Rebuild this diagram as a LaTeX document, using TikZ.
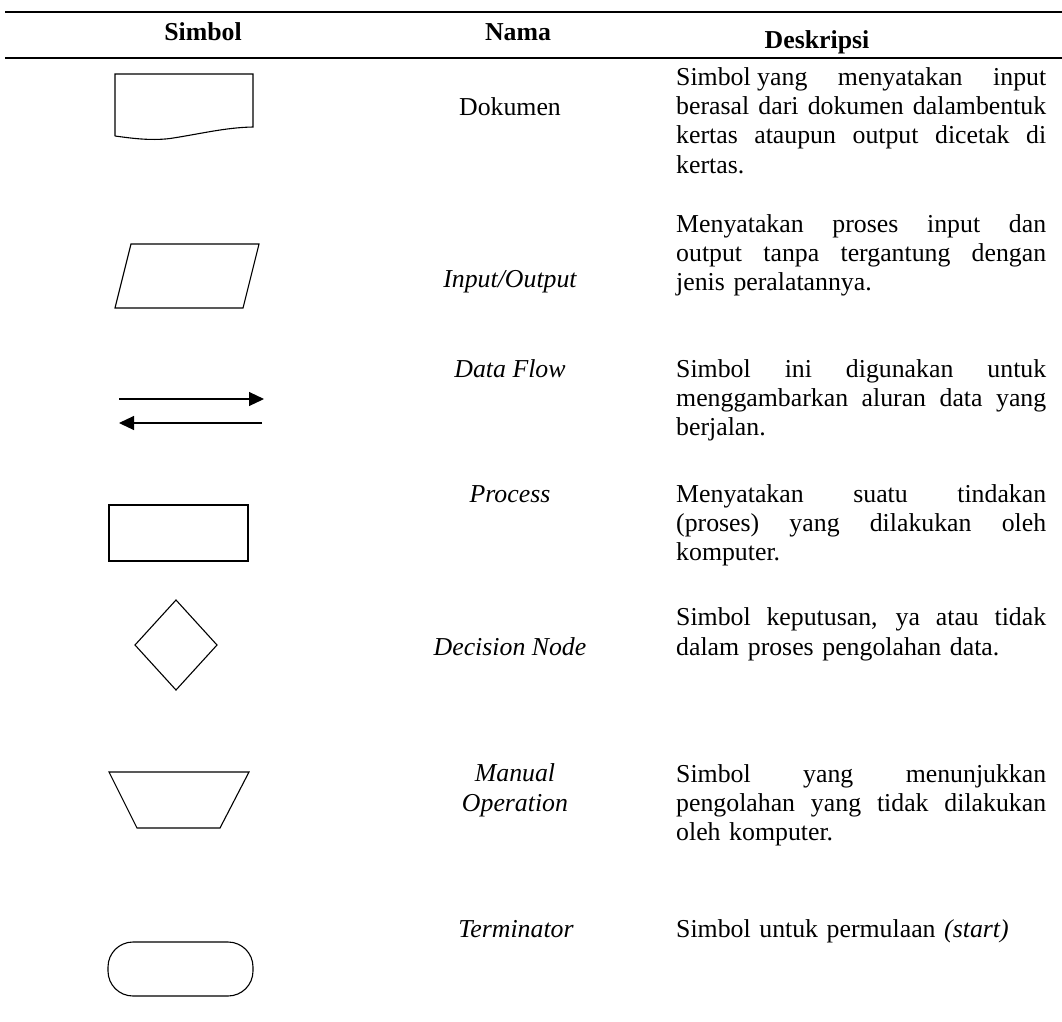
\documentclass[tikz,border=0pt]{standalone}
\usepackage{fontspec}
\setmainfont{Liberation Serif}
\usetikzlibrary{arrows.meta}

\newlength{\deskw}
\setlength{\deskw}{370pt}
\newcommand{\jline}[1]{\makebox[\deskw][s]{\spaceskip=0pt\xspaceskip=0pt #1}}

\begin{document}
\begin{tikzpicture}[x=1pt, y=-1pt,
	sym/.style={draw=black, line width=1.1pt},
	rule/.style={draw=black, line width=2.4pt},
	head/.style={anchor=base, inner sep=0pt, font=\fontsize{25.8}{29.4}\selectfont\bfseries},
	nama/.style={anchor=base, inner sep=0pt, align=center, font=\fontsize{25.8}{29.4}\selectfont\itshape},
	desk/.style={anchor=base west, inner sep=0pt, text width=\deskw, align=left, font=\fontsize{25.8}{29.4}\selectfont},
	tip/.style={-{Triangle[length=15pt, width=14pt]}}]
\def \namax {510}
\def \deskx {676}
\def \ruleleft {5}
\def \ruleright {1062}

\useasboundingbox (0,0) rectangle (1062,1021);

%header
\draw[rule] (\ruleleft,12) -- (\ruleright,12);
\node[head] (hsimbol) at (203,40) {Simbol};
\node[head] (hnama) at (518,40) {Nama};
\node[head] (hdesk) at (817,48) {Deskripsi};
\draw[rule] (\ruleleft,58) -- (\ruleright,58);

%Dokumen
\draw[sym] (115,136) -- (115,74) -- (253,74) -- (253,127)
	.. controls (225,127.5) and (200,134) .. (170,138.5)
	.. controls (150,141) and (130,138) .. (115,136);
\node[nama, font=\fontsize{25.8}{29.4}\selectfont\upshape] (ndok) at (\namax,115) {Dokumen};
\node[desk] (ddok) at (\deskx,85) {\jline{Simbol\hspace{6.5pt}yang menyatakan input}\\
	\jline{berasal dari dokumen dalambentuk}\\
	\jline{kertas ataupun output dicetak di}\\
	kertas.};

%Input/Output
\draw[sym] (131,244) -- (259,244) -- (243,308) -- (115,308) -- cycle;
\node[nama] (nio) at (\namax,287) {Input/Output};
\node[desk] (dio) at (\deskx,232) {\jline{Menyatakan proses input dan}\\
	\jline{output tanpa tergantung dengan}\\
	jenis peralatannya.};

%Data Flow
\draw[sym, tip] (119,399) -- (264,399);
\draw[sym, tip] (262,423) -- (119,423);
\node[nama] (nflow) at (\namax,377) {Data Flow};
\node[desk] (dflow) at (\deskx,377) {\jline{Simbol ini digunakan untuk}\\
	\jline{menggambarkan aluran data yang}\\
	berjalan.};

%Process
\draw[sym] (109,505) rectangle (248,561);
\node[nama] (nproc) at (\namax,502) {Process};
\node[desk] (dproc) at (\deskx,502) {\jline{Menyatakan suatu tindakan}\\
	\jline{(proses) yang dilakukan oleh}\\
	komputer.};

%Decision Node
\draw[sym] (176,600) -- (217,645) -- (176,690) -- (135,645) -- cycle;
\node[nama] (ndec) at (\namax,655) {Decision Node};
\node[desk] (ddec) at (\deskx,625.6) {\jline{Simbol keputusan, ya atau tidak}\\
	dalam proses pengolahan data.};

%Manual Operation
\draw[sym] (109,772) -- (249,772) -- (220,828) -- (137,828) -- cycle;
\node[nama] (nman) at (515,811) {Manual\\ Operation};
\node[desk] (dman) at (\deskx,782) {\jline{Simbol yang menunjukkan}\\
	\jline{pengolahan yang tidak dilakukan}\\
	oleh komputer.};

%Terminator
\draw[sym, rounded corners=25pt] (108,942) rectangle (253,996);
\node[nama] (nterm) at (516,937) {Terminator};
\node[desk] (dterm) at (\deskx,937) {Simbol untuk permulaan \textit{(start)}};

\end{tikzpicture}
\end{document}
